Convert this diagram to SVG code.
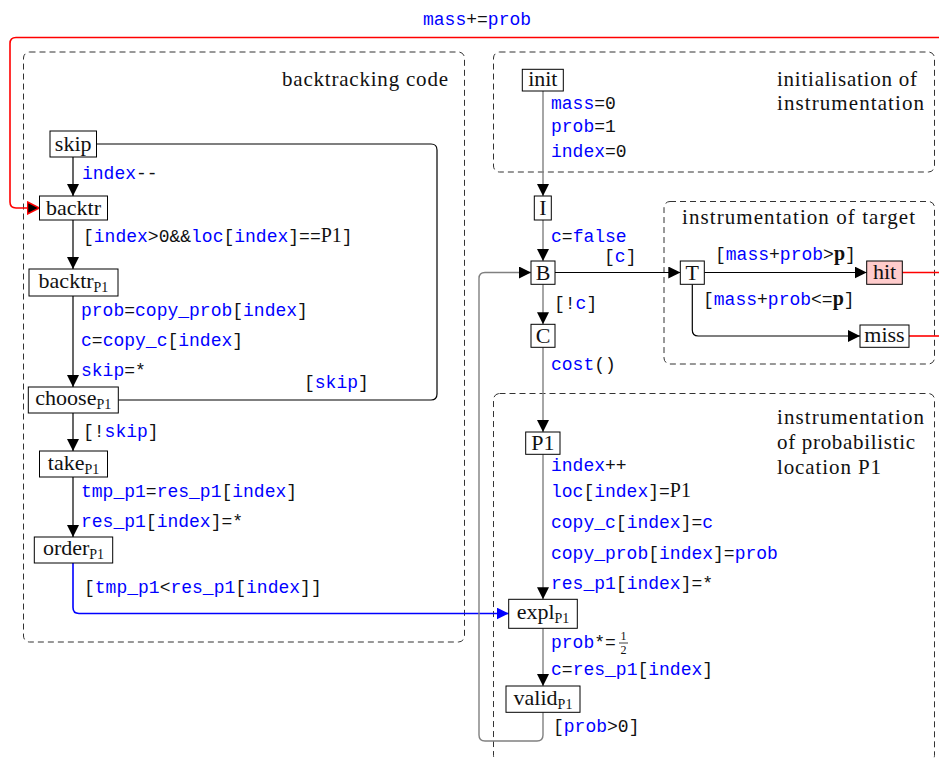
<svg xmlns="http://www.w3.org/2000/svg" width="939" height="758" viewBox="0 0 939 758">
<style>
.bg{fill:#fff}
.box{fill:#fff;stroke:#000;stroke-width:1}
.hitbox{fill:#ffcccc;stroke:#000;stroke-width:1}
.region{fill:none;stroke:#333;stroke-width:1;stroke-dasharray:6 4}
.nt{font-family:"Liberation Serif",serif;font-size:22px;fill:#111;text-anchor:middle}
.sub{font-size:14px}
.rt{font-family:"Liberation Serif",serif;font-size:21px;fill:#111}
.m{font-family:"Liberation Mono",monospace;font-size:18px;fill:#111}
.b{fill:#0000ff}
.s{font-family:"Liberation Serif",serif;font-size:20px}
.sb{font-family:"Liberation Serif",serif;font-size:20px;font-weight:bold}
.frac{font-family:"Liberation Serif",serif;font-size:12px;fill:#111;text-anchor:middle}
.e{fill:none;stroke:#000;stroke-width:1.2}
.g{fill:none;stroke:#808080;stroke-width:1.4}
.red{fill:none;stroke:#ff0000;stroke-width:1.6}
.blue{fill:none;stroke:#0000ff;stroke-width:1.6}
</style>
<defs>
<marker id="ah" markerUnits="userSpaceOnUse" markerWidth="12" markerHeight="12" viewBox="0 0 12 12" refX="12" refY="6" orient="auto">
<path d="M0,0 L12,6 L0,12 z" fill="#000"/>
</marker>
<marker id="ahr" markerUnits="userSpaceOnUse" markerWidth="14" markerHeight="14" viewBox="-1 -1 14 14" refX="12" refY="6" orient="auto">
<path d="M0,0 L12,6 L0,12 z" fill="#000" stroke="#ff0000" stroke-width="1.5"/>
</marker>
<marker id="ahb" markerUnits="userSpaceOnUse" markerWidth="12" markerHeight="12" viewBox="0 0 12 12" refX="12" refY="6" orient="auto">
<path d="M0,0 L12,6 L0,12 z" fill="#0000ff"/>
</marker>
</defs>
<rect class="bg" x="0" y="0" width="939" height="758"/>

<g id="regions">
<rect class="region" x="23.5" y="52" width="441" height="590" rx="6"/>
<text class="rt" x="282" y="86" textLength="166" lengthAdjust="spacing">backtracking code</text>
<rect class="region" x="493.5" y="52" width="441" height="120" rx="6"/>
<text class="rt" x="777" y="86" textLength="140" lengthAdjust="spacing">initialisation of</text>
<text class="rt" x="777" y="110" textLength="147" lengthAdjust="spacing">instrumentation</text>
<rect class="region" x="664" y="201.5" width="270.5" height="162.5" rx="6"/>
<text class="rt" x="682" y="224" textLength="233" lengthAdjust="spacing">instrumentation of target</text>
<rect class="region" x="493.5" y="393.5" width="441" height="368" rx="6"/>
<text class="rt" x="777" y="424" textLength="147" lengthAdjust="spacing">instrumentation</text>
<text class="rt" x="777" y="449" textLength="138" lengthAdjust="spacing">of probabilistic</text>
<text class="rt" x="777" y="474" textLength="104" lengthAdjust="spacing">location P1</text>
</g>

<g id="connectors">
<path class="red" d="M939,37.5 H16 Q10,37.5 10,43.5 V202 Q10,208 16,208 H39.5" marker-end="url(#ahr)"/>
<path class="red" d="M902.3,272.5 H939"/>
<path class="red" d="M909,336 H939"/>
<path class="e" d="M73,157 V196" marker-end="url(#ah)"/>
<path class="e" d="M73,220 V269" marker-end="url(#ah)"/>
<path class="e" d="M73,296 V387" marker-end="url(#ah)"/>
<path class="e" d="M73,413 V451" marker-end="url(#ah)"/>
<path class="e" d="M73,477 V537" marker-end="url(#ah)"/>
<path class="e" d="M118.3,400 H431 Q437,400 437,394 V150 Q437,144 431,144 H96.5"/>
<path class="blue" d="M73,563 V607.5 Q73,613.5 79,613.5 H508.7" marker-end="url(#ahb)"/>
<path class="g" d="M543,91 V196" marker-end="url(#ah)"/>
<path class="g" d="M543,220 V261" marker-end="url(#ah)"/>
<path class="g" d="M543,284.3 V324.3" marker-end="url(#ah)"/>
<path class="g" d="M543,347.3 V432" marker-end="url(#ah)"/>
<path class="g" d="M543,454.3 V599.3" marker-end="url(#ah)"/>
<path class="g" d="M543,628.3 V686" marker-end="url(#ah)"/>
<path class="g" d="M543,712.3 V735 Q543,741 537,741 H485 Q479,741 479,735 V278.5 Q479,272.5 485,272.5 H531" marker-end="url(#ah)"/>
<path class="e" d="M555,272.5 H680.3" marker-end="url(#ah)"/>
<path class="e" d="M704.3,272.5 H866.7" marker-end="url(#ah)"/>
<path class="e" d="M692.3,284.3 V330 Q692.3,336 698.3,336 H860" marker-end="url(#ah)"/>

<text class="m" x="423" y="25"><tspan class="b">mass</tspan>+=<tspan class="b">prob</tspan></text>
<text class="m" x="82" y="179"><tspan class="b">index</tspan>--</text>
<text class="m" x="83" y="242">[<tspan class="b">index</tspan>&gt;0&amp;&amp;<tspan class="b">loc</tspan>[<tspan class="b">index</tspan>]==<tspan class="s">P1</tspan>]</text>
<text class="m" x="81" y="316"><tspan class="b">prob</tspan>=<tspan class="b">copy_prob</tspan>[<tspan class="b">index</tspan>]</text>
<text class="m" x="81" y="346"><tspan class="b">c</tspan>=<tspan class="b">copy_c</tspan>[<tspan class="b">index</tspan>]</text>
<text class="m" x="81" y="376"><tspan class="b">skip</tspan>=*</text>
<text class="m" x="304" y="388">[<tspan class="b">skip</tspan>]</text>
<text class="m" x="83" y="437">[!<tspan class="b">skip</tspan>]</text>
<text class="m" x="81" y="497"><tspan class="b">tmp_p1</tspan>=<tspan class="b">res_p1</tspan>[<tspan class="b">index</tspan>]</text>
<text class="m" x="81" y="527"><tspan class="b">res_p1</tspan>[<tspan class="b">index</tspan>]=*</text>
<text class="m" x="84" y="593">[<tspan class="b">tmp_p1</tspan>&lt;<tspan class="b">res_p1</tspan>[<tspan class="b">index</tspan>]]</text>

<text class="m" x="551" y="109"><tspan class="b">mass</tspan>=0</text>
<text class="m" x="551" y="132"><tspan class="b">prob</tspan>=1</text>
<text class="m" x="551" y="157"><tspan class="b">index</tspan>=0</text>
<text class="m" x="551" y="242"><tspan class="b">c</tspan>=<tspan class="b">false</tspan></text>
<text class="m" x="604" y="262">[<tspan class="b">c</tspan>]</text>
<text class="m" x="715" y="260">[<tspan class="b">mass</tspan>+<tspan class="b">prob</tspan>&gt;<tspan class="sb">p</tspan>]</text>
<text class="m" x="703" y="305">[<tspan class="b">mass</tspan>+<tspan class="b">prob</tspan>&lt;=<tspan class="sb">p</tspan>]</text>
<text class="m" x="554" y="309">[!<tspan class="b">c</tspan>]</text>
<text class="m" x="551" y="370"><tspan class="b">cost</tspan>()</text>
<text class="m" x="551" y="471"><tspan class="b">index</tspan>++</text>
<text class="m" x="551" y="497"><tspan class="b">loc</tspan>[<tspan class="b">index</tspan>]=<tspan class="s">P1</tspan></text>
<text class="m" x="551" y="528"><tspan class="b">copy_c</tspan>[<tspan class="b">index</tspan>]=<tspan class="b">c</tspan></text>
<text class="m" x="551" y="559"><tspan class="b">copy_prob</tspan>[<tspan class="b">index</tspan>]=<tspan class="b">prob</tspan></text>
<text class="m" x="551" y="589"><tspan class="b">res_p1</tspan>[<tspan class="b">index</tspan>]=*</text>
<text class="m" x="551" y="648"><tspan class="b">prob</tspan>*=</text>
<text class="frac" x="623.5" y="640">1</text>
<line x1="619" y1="643" x2="628" y2="643" stroke="#111" stroke-width="0.8"/>
<text class="frac" x="623.5" y="654">2</text>
<text class="m" x="551" y="675"><tspan class="b">c</tspan>=<tspan class="b">res_p1</tspan>[<tspan class="b">index</tspan>]</text>
<text class="m" x="553" y="732">[<tspan class="b">prob</tspan>&gt;0]</text>
</g>

<g id="skip"><rect class="box" x="50" y="131" width="46.5" height="26"/><text class="nt" x="73.2" y="151">skip</text></g>
<g id="backtr"><rect class="box" x="39.5" y="196" width="68" height="24"/><text class="nt" x="73.5" y="215">backtr</text></g>
<g id="backtrP1"><rect class="box" x="29" y="269" width="89" height="27"/><text class="nt" x="73.5" y="288">backtr<tspan class="sub" dy="4">P1</tspan></text></g>
<g id="chooseP1"><rect class="box" x="28.3" y="387" width="90" height="26"/><text class="nt" x="73.3" y="405">choose<tspan class="sub" dy="4">P1</tspan></text></g>
<g id="takeP1"><rect class="box" x="39.5" y="451" width="68" height="26"/><text class="nt" x="73.5" y="470">take<tspan class="sub" dy="4">P1</tspan></text></g>
<g id="orderP1"><rect class="box" x="34.3" y="537" width="78.4" height="26"/><text class="nt" x="73.5" y="555">order<tspan class="sub" dy="4">P1</tspan></text></g>

<g id="init"><rect class="box" x="522.3" y="69.3" width="41" height="21.7"/><text class="nt" x="542.8" y="86">init</text></g>
<g id="I"><rect class="box" x="534.3" y="196" width="17" height="24"/><text class="nt" x="542.8" y="215">I</text></g>
<g id="B"><rect class="box" x="531" y="261" width="24" height="23.3"/><text class="nt" x="543" y="280">B</text></g>
<g id="C"><rect class="box" x="531" y="324.3" width="24" height="23"/><text class="nt" x="543" y="343">C</text></g>
<g id="T"><rect class="box" x="680.3" y="261" width="24" height="23.3"/><text class="nt" x="692.3" y="280">T</text></g>
<g id="hit"><rect class="hitbox" x="866.7" y="261" width="35.6" height="23.3"/><text class="nt" x="884.5" y="279">hit</text></g>
<g id="miss"><rect class="box" x="860" y="325" width="49" height="22.3"/><text class="nt" x="884.5" y="342">miss</text></g>
<g id="P1"><rect class="box" x="525.7" y="432" width="34.3" height="22.3"/><text class="nt" x="542.8" y="450">P1</text></g>
<g id="explP1"><rect class="box" x="508.7" y="599.3" width="68.6" height="29"/><text class="nt" x="543" y="619">expl<tspan class="sub" dy="4">P1</tspan></text></g>
<g id="validP1"><rect class="box" x="506" y="686" width="74" height="26.3"/><text class="nt" x="543" y="705">valid<tspan class="sub" dy="4">P1</tspan></text></g>
</svg>
